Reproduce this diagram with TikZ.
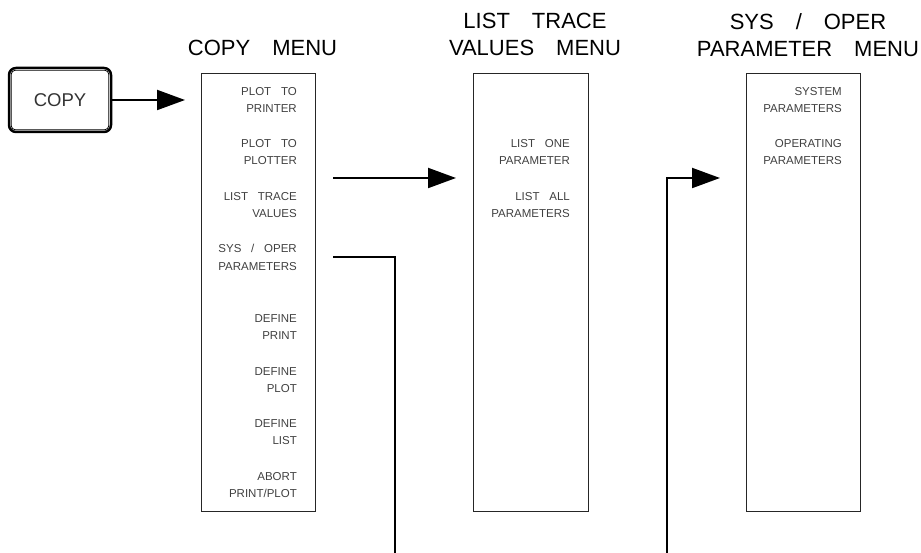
\documentclass[tikz,border=0pt]{standalone}
\usepackage{fontspec}
\setmainfont{Liberation Sans}
\usetikzlibrary{arrows.meta}
\newcommand\wsp{\hspace{0.85em}}
\begin{document}
\begin{tikzpicture}[x=1pt,y=-1pt,
  menubox/.style={draw=black!85, line width=1pt, inner sep=0pt, minimum width=114pt, minimum height=438pt, anchor=north west},
  item/.style={anchor=north east, align=right, inner sep=0pt, text=black!75, font=\fontsize{11.5}{17.5}\selectfont},
  title/.style={anchor=north, align=center, inner sep=0pt, font=\fontsize{22}{27}\selectfont},
  keybox/.style={draw, line width=2.5pt, rounded corners=7pt, minimum width=102pt, minimum height=64pt, inner sep=0pt, font=\fontsize{18.5}{22}\selectfont, text=black!80},
  conn/.style={line width=2pt},
  arr/.style={conn, -{Triangle[length=28pt,width=20pt]}}
]
\useasboundingbox (0,0) rectangle (921,553);

% key
\node[keybox] (key) at (60,100) {COPY};
\draw[line width=0.8pt, rounded corners=4pt] ([shift={(3.5,3.5)}]key.north west) rectangle ([shift={(-3.5,-3.5)}]key.south east);

% menu boxes
\node[menubox] (cm) at (201,73) {};
\node[menubox, minimum width=115pt] (lt) at (473,73) {};
\node[menubox] (so) at (746,73) {};

% titles
\node[title] (tcm) at (262.5,40) {COPY\quad MENU};
\node[title] (tlt) at (535,13) {LIST\quad TRACE\\VALUES\quad MENU};
\node[title] (tso) at (808,13) {SYS\quad /\quad OPER\\PARAMETER\quad MENU};

% copy menu items
\node[item] (c1) at (297,87) {PLOT\wsp TO\\PRINTER};
\node[item] (c2) at (297,139) {PLOT\wsp TO\\PLOTTER};
\node[item] (c3) at (297,192) {LIST\wsp TRACE\\VALUES};
\node[item] (c4) at (297,244) {SYS\wsp /\wsp OPER\\PARAMETERS};
\node[item] (c5) at (297,314) {DEFINE\\PRINT};
\node[item] (c6) at (297,367) {DEFINE\\PLOT};
\node[item] (c7) at (297,419) {DEFINE\\LIST};
\node[item] (c8) at (297,472) {ABORT\\PRINT/PLOT};

% list trace items
\node[item] (l1) at (570,139) {LIST\wsp ONE\\PARAMETER};
\node[item] (l2) at (570,192) {LIST\wsp ALL\\PARAMETERS};

% sys/oper items
\node[item] (s1) at (842,87) {SYSTEM\\PARAMETERS};
\node[item] (s2) at (842,139) {OPERATING\\PARAMETERS};

% connectors
\coordinate (k2) at (201,100);
\draw[arr, shorten >=16pt] (key.east) -- (cm.west |- k2);

\coordinate (a1) at (333,178);
\coordinate (a2) at (473,178);
\draw[arr, shorten >=17pt] (a1) -- (lt.west |- a2);

\coordinate (b1) at (333,257);
\coordinate (b2) at (395,257);
\coordinate (b3) at (395,553);
\draw[conn] (b1) -- (b2) -- (b3);

\coordinate (d1) at (667,553);
\coordinate (d2) at (667,178);
\coordinate (d3) at (746,178);
\draw[arr, shorten >=26pt] (d1) -- (d2) -- (so.west |- d3);
\end{tikzpicture}
\end{document}
